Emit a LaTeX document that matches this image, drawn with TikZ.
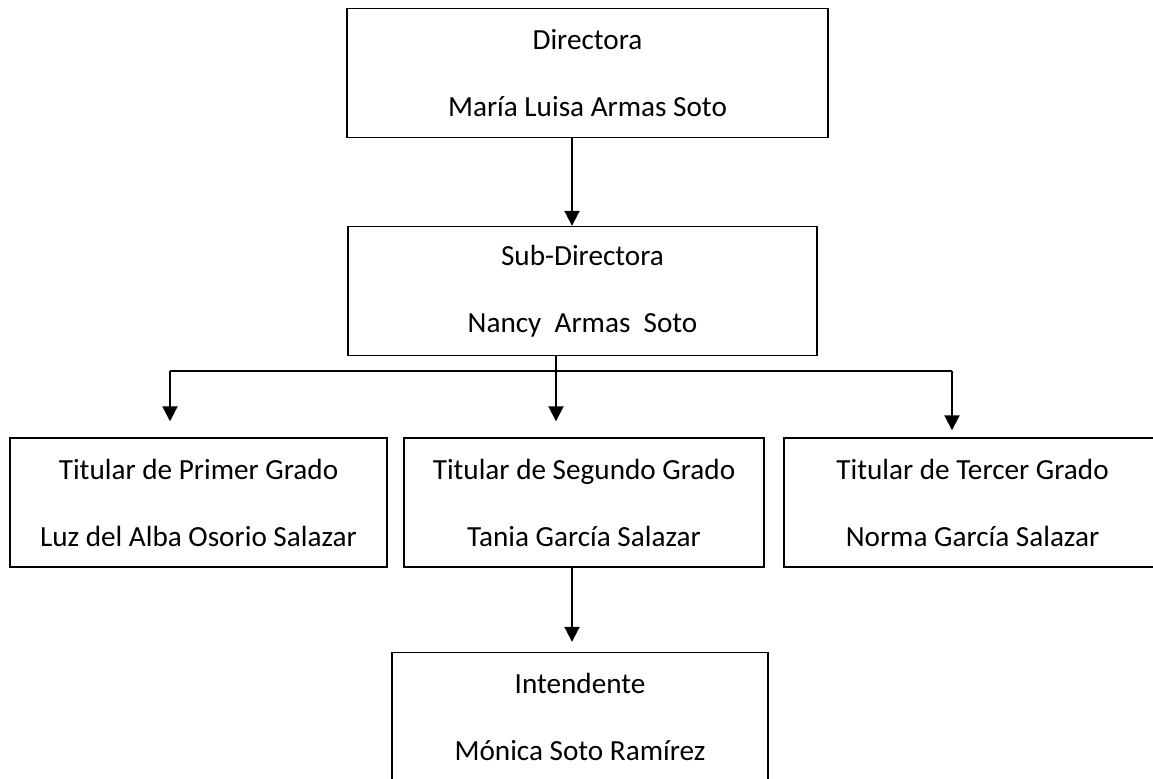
\documentclass[tikz,border=0pt]{standalone}
\usepackage{fontspec}
\setmainfont{Carlito}
\usetikzlibrary{positioning, arrows.meta}
\tikzset{
    >={Triangle[length=7.5pt, width=7.5pt]}, % punta triangular llena
    x=0.5pt, y=-0.5pt, % una unidad = un pixel de la imagen
    puesto/.style={draw, rectangle, line width=0.7pt, inner sep=0pt, align=center,
        minimum height=64.5pt, font=\fontsize{14.6pt}{33.5pt}\selectfont}, % cada cargo
    enlace/.style={line width=1pt}, % lineas de mando
}

\begin{document}
\begin{tikzpicture}

    \clip (0,0) rectangle (1153,779);

    % Cargos
    \node[puesto, minimum width=240.5pt] (dir) at (587.5,73) {Directora\\María Luisa Armas Soto};
    \node[puesto, minimum width=234.5pt] (sub) at (582.5,291) {Sub-Directora\\Nancy~ Armas~ Soto};
    \node[puesto, minimum width=188.5pt] (t1) at (198.5,502.5) {Titular de Primer Grado\\Luz del Alba Osorio Salazar};
    \node[puesto, minimum width=180pt] (t2) at (584,502.5) {Titular de Segundo Grado\\Tania García Salazar};
    \node[puesto, minimum width=188.5pt] (t3) at (972.5,502.5) {Titular de Tercer Grado\\Norma García Salazar};
    \node[puesto, minimum width=188pt] (int) at (580,717) {Intendente\\Mónica Soto Ramírez};

    % Ramas
    \coordinate (rama1) at (170,371);
    \coordinate (rama3) at (952,371);

    % Lineas
    \draw[enlace, ->] ([xshift=-7.75pt]dir.south) -- ([xshift=-5.25pt]sub.north);
    \draw[enlace] (rama1) -- (rama3);
    \draw[enlace, ->, shorten >=8pt] ([xshift=-13.25pt]sub.south) -- ([xshift=-14pt]t2.north);
    \draw[enlace, ->, shorten >=8pt] (rama1) -- (rama1 |- t1.north);
    \draw[enlace, ->, shorten >=3.5pt] (rama3) -- (rama3 |- t3.north);
    \draw[enlace, ->, shorten >=5pt] ([xshift=-6pt]t2.south) -- ([xshift=-4pt]int.north);

\end{tikzpicture}
\end{document}
